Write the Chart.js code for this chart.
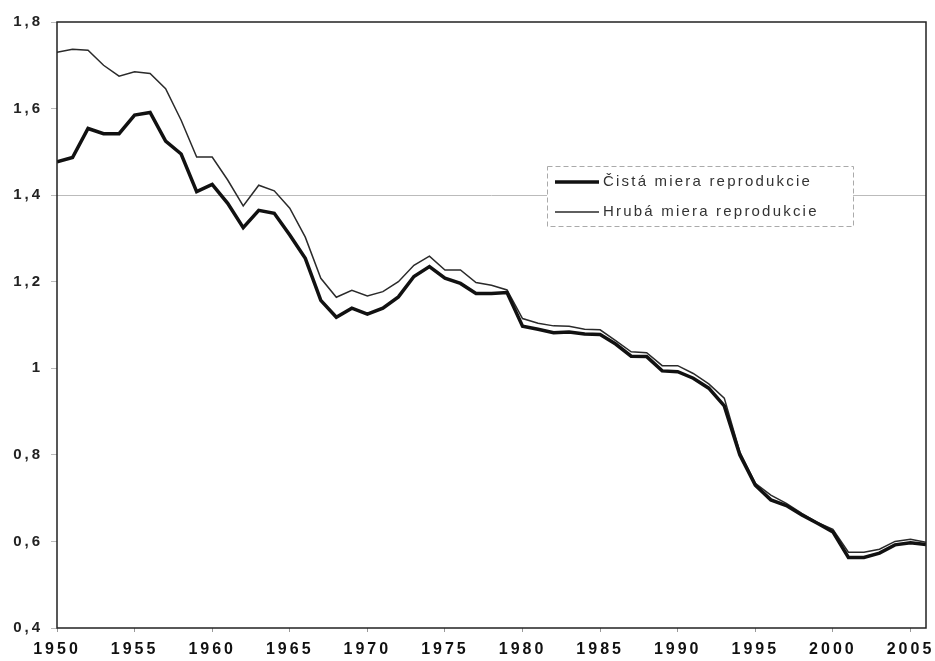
<!DOCTYPE html>
<html>
<head>
<meta charset="utf-8">
<script src="https://cdn.jsdelivr.net/npm/chart.js@4/dist/chart.umd.min.js"></script>
<style>
  html, body { margin: 0; padding: 0; background: #fff; }
  #wrap { width: 935px; height: 661px; }
</style>
</head>
<body>
<div id="wrap"><canvas id="chart" width="935" height="661"></canvas></div>
<script>
var years = [];
for (var y = 1950; y <= 2006; y++) years.push(y);

var xTicks = [1950, 1955, 1960, 1965, 1970, 1975, 1980, 1985, 1990, 1995, 2000, 2005];

// Čistá miera reprodukcie (net reproduction rate)
var cista = [
  1.477, 1.487, 1.554, 1.542, 1.542, 1.585, 1.591, 1.525, 1.495, 1.408,
  1.425, 1.381, 1.325, 1.365, 1.358, 1.308, 1.254, 1.157, 1.118, 1.139,
  1.125, 1.139, 1.165, 1.212, 1.235, 1.208, 1.196, 1.173, 1.173, 1.175,
  1.097, 1.090, 1.082, 1.084, 1.079, 1.078, 1.056, 1.028, 1.027, 0.994,
  0.992, 0.977, 0.954, 0.913, 0.800, 0.730, 0.696, 0.683, 0.661, 0.642,
  0.622, 0.563, 0.563, 0.573, 0.592, 0.597, 0.593
];

// Hrubá miera reprodukcie (gross reproduction rate)
var hruba = [
  1.730, 1.737, 1.735, 1.700, 1.675, 1.685, 1.681, 1.646, 1.573, 1.488,
  1.488, 1.435, 1.375, 1.423, 1.410, 1.370, 1.303, 1.208, 1.164, 1.180,
  1.167, 1.177, 1.200, 1.238, 1.259, 1.227, 1.227, 1.198, 1.192, 1.181,
  1.115, 1.104, 1.098, 1.097, 1.090, 1.089, 1.064, 1.038, 1.036, 1.006,
  1.006, 0.988, 0.964, 0.931, 0.807, 0.734, 0.707, 0.688, 0.665, 0.644,
  0.628, 0.575, 0.575, 0.582, 0.600, 0.605, 0.598
];

var labels = ['Čistá miera reprodukcie', 'Hrubá miera reprodukcie'];

function pts(vals) {
  return vals.map(function(v, i) { return {x: years[i], y: v}; });
}

var FONT = '"Liberation Sans", Arial, sans-serif';

// spaced-out lettering like the scanned original
var spacing = {
  id: 'spacing',
  beforeUpdate: function(chart) { chart.ctx.letterSpacing = '3px'; },
  beforeDraw: function(chart) { chart.ctx.letterSpacing = '3px'; }
};

var frame = {
  id: 'frame',
  afterDatasetsDraw: function(chart) {
    var a = chart.chartArea, ctx = chart.ctx;
    ctx.save();
    ctx.strokeStyle = '#222';
    ctx.lineWidth = 1.5;
    ctx.strokeRect(a.left, a.top, a.right - a.left, a.bottom - a.top);
    ctx.restore();
  }
};

// legend box sitting inside the plot
var boxLegend = {
  id: 'boxLegend',
  afterDraw: function(chart) {
    var ctx = chart.ctx;
    var x = 547, y = 166, w = 306, h = 60;
    ctx.save();
    ctx.fillStyle = '#fff';
    ctx.fillRect(x, y, w, h);
    ctx.setLineDash([5, 3]);
    ctx.strokeStyle = '#aaa';
    ctx.lineWidth = 1;
    ctx.strokeRect(x + 0.5, y + 0.5, w, h);
    ctx.setLineDash([]);
    ctx.letterSpacing = '2.2px';
    ctx.font = '15px ' + FONT;
    ctx.textBaseline = 'middle';
    chart.data.datasets.forEach(function(ds, i) {
      var ly = y + 16 + i * 30;
      ctx.strokeStyle = ds.borderColor;
      ctx.lineWidth = ds.borderWidth;
      ctx.beginPath();
      ctx.moveTo(x + 8, ly);
      ctx.lineTo(x + 52, ly);
      ctx.stroke();
      ctx.fillStyle = '#333';
      ctx.fillText(ds.label, x + 56, ly);
    });
    ctx.restore();
  }
};

new Chart(document.getElementById('chart').getContext('2d'), {
  type: 'line',
  data: {
    datasets: [
      {
        label: labels[0],
        data: pts(cista),
        borderColor: '#111',
        borderWidth: 3.5,
        pointRadius: 0,
        tension: 0,
        fill: false
      },
      {
        label: labels[1],
        data: pts(hruba),
        borderColor: '#2a2a2a',
        borderWidth: 1.5,
        pointRadius: 0,
        tension: 0,
        fill: false
      }
    ]
  },
  options: {
    responsive: false,
    animation: false,
    layout: { padding: { top: 22, right: 9, left: 0, bottom: 0 } },
    plugins: {
      legend: { display: false },
      tooltip: { enabled: false }
    },
    scales: {
      x: {
        type: 'linear',
        min: 1950,
        max: 2006,
        border: { display: false },
        grid: {
          drawOnChartArea: false,
          tickLength: 4,
          tickColor: '#999'
        },
        ticks: {
          padding: 8,
          autoSkip: false,
          color: '#111',
          font: { family: FONT, size: 16, weight: 'bold' },
          maxRotation: 0,
          callback: function(v) { return String(v); }
        },
        afterBuildTicks: function(s) {
          s.ticks = xTicks.map(function(v) { return {value: v}; });
        },
        afterFit: function(s) {
          s.height = 33;
          s.paddingRight = 0;
        }
      },
      y: {
        min: 0.4,
        max: 1.8,
        border: { display: false },
        grid: {
          color: function(c) {
            return c.tick && Math.abs(c.tick.value - 1.4) < 1e-6 ? '#bbb' : 'rgba(0,0,0,0)';
          },
          borderDash: [3, 3],
          tickLength: 6,
          tickColor: '#bbb'
        },
        ticks: {
          stepSize: 0.2,
          padding: 8,
          color: '#222',
          font: { family: FONT, size: 15, weight: 'bold' },
          callback: function(v) {
            var r = Math.round(v * 10) / 10;
            return String(r).replace('.', ',');
          }
        },
        afterFit: function(s) { s.width = 57; }
      }
    }
  },
  plugins: [spacing, frame, boxLegend]
});
</script>
</body>
</html>
